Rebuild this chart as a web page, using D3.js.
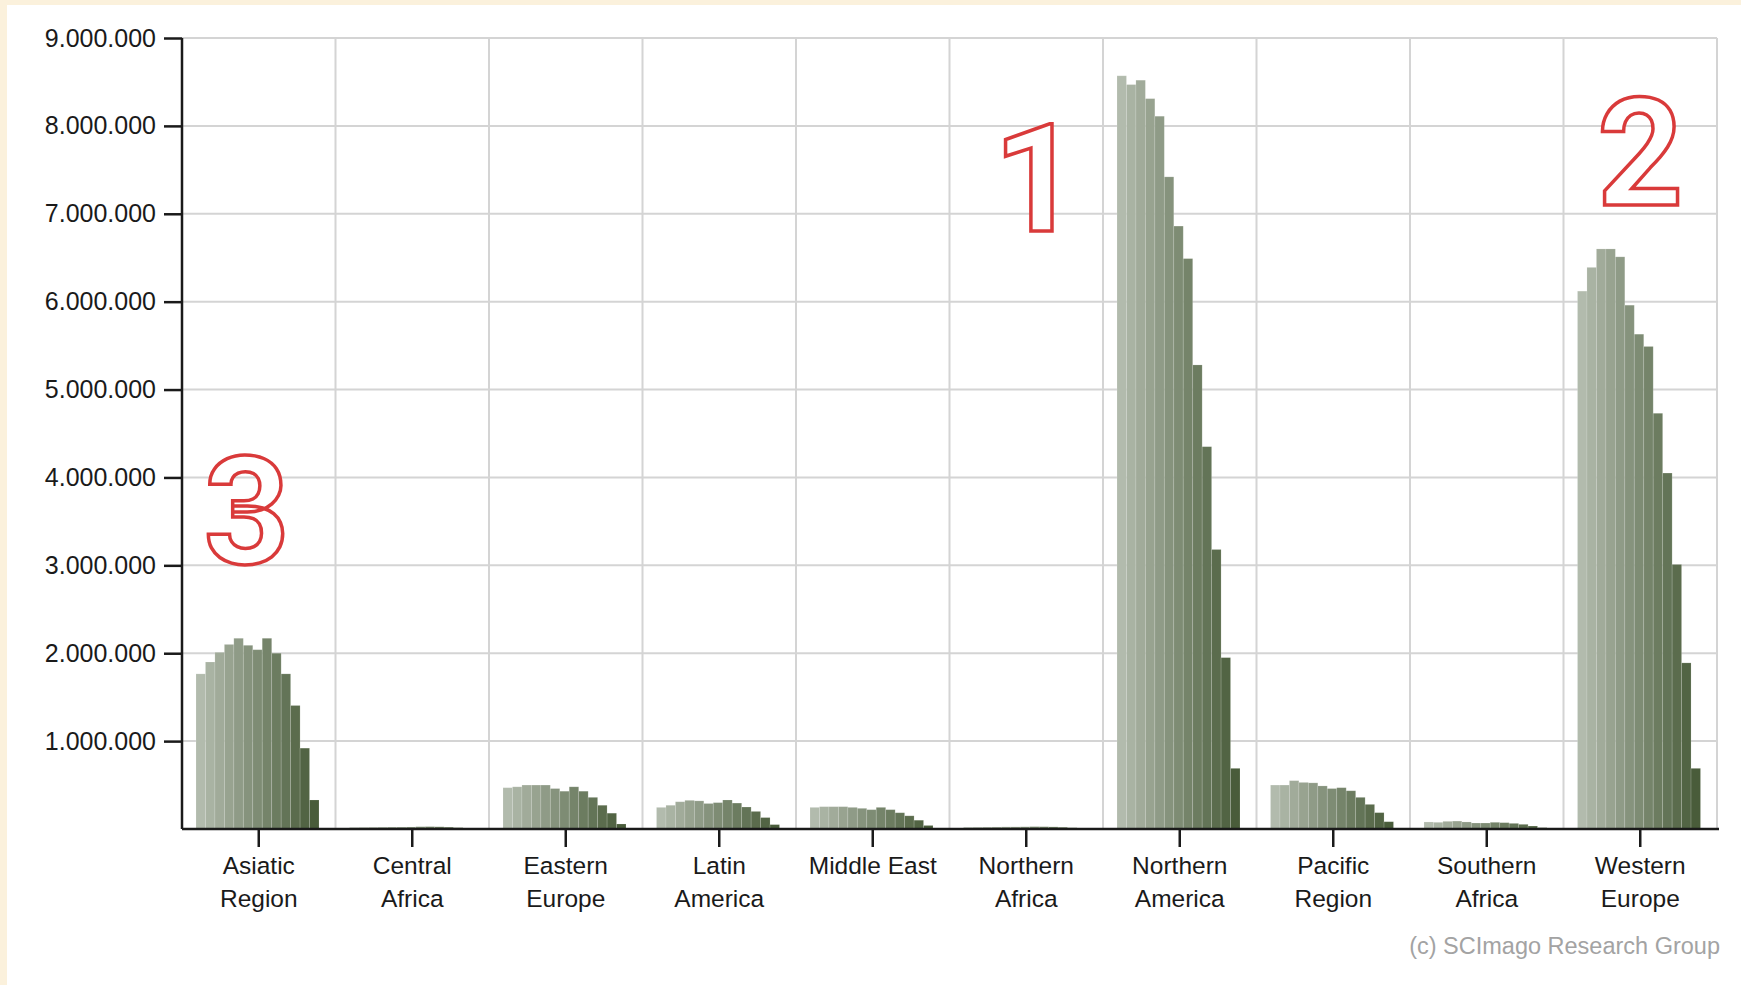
<!DOCTYPE html>
<html>
<head>
<meta charset="utf-8">
<script src="https://cdn.jsdelivr.net/npm/d3@7/dist/d3.min.js"></script>
<style>
  html, body { margin: 0; padding: 0; background: #fbf1dc; }
  svg { display: block; }
  text { font-family: "Liberation Sans", Arial, sans-serif; }
</style>
</head>
<body>
<svg id="chart" width="1741" height="985"></svg>
<script>
// ---------- DATA ----------
const years = ["1996","1997","1998","1999","2000","2001","2002","2003","2004","2005","2006","2007","2008"];
const categories = ["Asiatic Region","Central Africa","Eastern Europe","Latin America","Middle East","Northern Africa","Northern America","Pacific Region","Southern Africa","Western Europe"];
const categoryLines = [["Asiatic","Region"],["Central","Africa"],["Eastern","Europe"],["Latin","America"],["Middle East"],["Northern","Africa"],["Northern","America"],["Pacific","Region"],["Southern","Africa"],["Western","Europe"]];

const asiaticRegion   = [1765000,1900000,2010000,2100000,2170000,2090000,2040000,2170000,2000000,1765000,1405000,920000,330000];
const centralAfrica   = [18000,19000,20000,21000,22000,22000,23000,26000,27000,25000,21000,15000,5000];
const easternEurope   = [470000,480000,500000,500000,500000,460000,430000,480000,430000,360000,270000,180000,57000];
const latinAmerica    = [246000,270000,310000,326000,320000,290000,300000,330000,295000,250000,200000,130000,50000];
const middleEast      = [246000,254000,254000,254000,246000,235000,220000,246000,220000,185000,150000,100000,40000];
const northernAfrica  = [20000,21000,22000,23000,24000,24000,25000,27000,26000,24000,20000,14000,5000];
const northernAmerica = [8570000,8470000,8520000,8310000,8110000,7420000,6860000,6490000,5280000,4350000,3180000,1950000,690000];
const pacificRegion   = [500000,500000,550000,530000,525000,490000,460000,470000,435000,360000,280000,186000,83000];
const southernAfrica  = [80000,76000,87000,90000,80000,68000,68000,76000,72000,64000,53000,34000,15000];
const westernEurope   = [6120000,6390000,6600000,6600000,6510000,5960000,5630000,5490000,4730000,4050000,3010000,1890000,690000];
const seriesValues = [asiaticRegion,centralAfrica,easternEurope,latinAmerica,middleEast,northernAfrica,northernAmerica,pacificRegion,southernAfrica,westernEurope];

const yTickValues = [1000000,2000000,3000000,4000000,5000000,6000000,7000000,8000000,9000000];
const annotations = [
  {label: "1", category: "Northern Africa", value: 6800000},
  {label: "2", category: "Western Europe", value: 7100000},
  {label: "3", category: "Asiatic Region", value: 3010000}
];
const credit = "(c) SCImago Research Group";

// ---------- LAYOUT ----------
const svg = d3.select("#chart");
const margin = {left: 182, top: 38, right: 24, bottom: 156};
const W = 1741, H = 985;
const innerW = 1717 - margin.left;
const innerH = 829 - margin.top;

// white panel
svg.append("rect").attr("x", 7).attr("y", 5).attr("width", W - 7).attr("height", H - 5).attr("fill", "#ffffff");

const g = svg.append("g").attr("transform", `translate(${margin.left},${margin.top})`);

const x0 = d3.scaleBand().domain(categories).range([0, innerW]).padding(0);
const x1 = d3.scaleBand().domain(years).range([14, x0.bandwidth() - 16.5]).padding(0);
const y = d3.scaleLinear().domain([0, 9000000]).range([innerH, 0]);
const color = d3.scaleLinear().domain([0, years.length - 1])
  .range(["#b2bbad", "#495c3a"]).interpolate(d3.interpolateRgb);

const locale = d3.formatLocale({decimal: ",", thousands: ".", grouping: [3], currency: ["", ""]});
const fmt = locale.format(",d");

// horizontal grid
g.append("g").selectAll("line").data(yTickValues).join("line")
  .attr("x1", 0).attr("x2", innerW)
  .attr("y1", d => y(d)).attr("y2", d => y(d))
  .attr("stroke", "#d4d4d4").attr("stroke-width", 2);

// vertical grid at band boundaries
g.append("g").selectAll("line").data(categories).join("line")
  .attr("x1", d => x0(d) + x0.bandwidth()).attr("x2", d => x0(d) + x0.bandwidth())
  .attr("y1", y(9000000)).attr("y2", innerH)
  .attr("stroke", "#d4d4d4").attr("stroke-width", 2);

// bars
const groups = g.append("g").selectAll("g").data(categories).join("g")
  .attr("transform", d => `translate(${x0(d)},0)`);
groups.each(function(cat, ci) {
  d3.select(this).selectAll("rect").data(seriesValues[ci]).join("rect")
    .attr("x", (v, i) => x1(years[i]))
    .attr("width", x1.bandwidth())
    .attr("y", v => y(v))
    .attr("height", v => innerH - y(v))
    .attr("fill", (v, i) => color(i))
    .attr("stroke", "rgba(255,255,255,0.18)")
    .attr("stroke-width", 0.8);
});

// y axis
const yAxis = d3.axisLeft(y).tickValues(yTickValues).tickSize(18).tickPadding(8).tickFormat(fmt);
const ya = g.append("g").call(yAxis);
ya.select(".domain").attr("stroke", "#1a1a1a").attr("stroke-width", 2.5)
  .attr("d", `M0,${y(9000000)}V${innerH}`);
ya.selectAll(".tick line").attr("stroke", "#1a1a1a").attr("stroke-width", 2.5);
ya.selectAll(".tick text").attr("fill", "#1a1a1a").style("font-size", "25px")
  .style("font-family", "'Liberation Sans', Arial, sans-serif");

// x axis
const xAxis = d3.axisBottom(x0).tickSize(18).tickSizeOuter(0).tickFormat(() => "");
const xa = g.append("g").attr("transform", `translate(0,${innerH})`).call(xAxis);
xa.select(".domain").attr("stroke", "#1a1a1a").attr("stroke-width", 2.5)
  .attr("d", `M0,0H${innerW + 2}`);
xa.selectAll(".tick line").attr("stroke", "#1a1a1a").attr("stroke-width", 2.5);
xa.selectAll(".tick").each(function(d, i) {
  const t = d3.select(this).append("text")
    .attr("fill", "#1a1a1a").attr("text-anchor", "middle")
    .style("font-size", "24.5px").style("font-family", "'Liberation Sans', Arial, sans-serif");
  categoryLines[i].forEach((line, k) => {
    t.append("tspan").attr("x", 0).attr("y", 45 + k * 33).text(line);
  });
});

// annotations (red outlined numbers)
g.append("g").selectAll("text").data(annotations).join("text")
  .attr("x", d => x0(d.category) + x0.bandwidth() / 2 + (d.label === "1" ? 10 : (d.label === "2" ? 0 : -12)))
  .attr("y", d => y(d.value))
  .attr("text-anchor", "middle")
  .attr("fill", "#ffffff")
  .attr("stroke", "#d93a3a")
  .attr("stroke-width", 3.5)
  .style("font-size", "150px")
  .style("font-weight", "bold")
  .style("font-family", "Roboto, 'Liberation Sans', Arial, sans-serif")
  .text(d => d.label);

// credit
svg.append("text")
  .attr("x", 1720).attr("y", 954)
  .attr("text-anchor", "end")
  .attr("fill", "#a3a3a3")
  .style("font-size", "23.5px")
  .text(credit);
</script>
</body>
</html>
